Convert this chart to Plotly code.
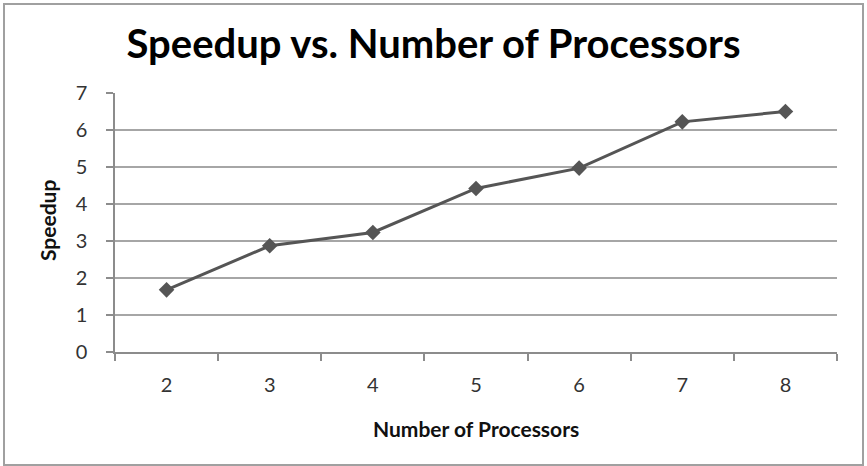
import plotly.graph_objects as go

# Measured speedup for each processor count
processors = ["2", "3", "4", "5", "6", "7", "8"]
speedup = [1.68, 2.87, 3.23, 4.42, 4.97, 6.22, 6.50]
y_ticks = [0, 1, 2, 3, 4, 5, 6, 7]

W, H = 867, 466
L, R, T, B = 115, 30, 93, 114

FONT = "Lato, Calibri, 'Open Sans', sans-serif"
LINE_GRAY = "#555555"
GRID_GRAY = "#a6a6a6"

fig = go.Figure(
    go.Scatter(
        x=processors,
        y=speedup,
        mode="lines+markers",
        line=dict(color=LINE_GRAY, width=3),
        marker=dict(symbol="diamond", size=12, color=LINE_GRAY),
        showlegend=False,
        hoverinfo="x+y",
    )
)

pw = W - L - R
ph = H - T - B


def px_to_paper_x(px):
    return (px - L) / pw


def px_to_paper_y(py):
    return (H - B - py) / ph


# Outer chart frame
fig.add_shape(
    type="rect",
    xref="paper", yref="paper",
    x0=px_to_paper_x(4), x1=px_to_paper_x(863),
    y0=px_to_paper_y(465), y1=px_to_paper_y(4),
    line=dict(color="#a0a0a0", width=2),
    fillcolor="rgba(0,0,0,0)",
    layer="below",
)

# Axis titles placed as annotations
fig.add_annotation(
    text="<b>Number of Processors</b>",
    xref="paper", yref="paper",
    x=px_to_paper_x(476), y=px_to_paper_y(428),
    xanchor="center", yanchor="middle",
    showarrow=False,
    font=dict(family=FONT, size=21, color="#111111"),
)
fig.add_annotation(
    text="<b>Speedup</b>",
    xref="paper", yref="paper",
    x=px_to_paper_x(47), y=px_to_paper_y(221),
    xanchor="center", yanchor="middle",
    textangle=-90,
    showarrow=False,
    font=dict(family=FONT, size=21, color="#111111"),
)

fig.update_layout(
    width=W,
    height=H,
    margin=dict(l=L, r=R, t=T, b=B, pad=0),
    paper_bgcolor="white",
    plot_bgcolor="white",
    font=dict(family=FONT, color="#222222"),
    title=dict(
        text="<b>Speedup vs. Number of Processors</b>",
        font=dict(family=FONT, size=40, color="#000000"),
        x=0.5, xref="container", xanchor="center",
        y=1 - 44 / H, yref="container", yanchor="middle",
    ),
    xaxis=dict(
        type="category",
        range=[-0.5, len(processors) - 0.5],
        showgrid=False,
        showline=True,
        linecolor="#8c8c8c",
        linewidth=1.5,
        ticks="outside",
        tickson="boundaries",
        ticklen=7,
        tickcolor="#8c8c8c",
        tickwidth=1.5,
        tickfont=dict(family=FONT, size=20, color="#333333"),
        ticklabelstandoff=14,
        fixedrange=True,
    ),
    yaxis=dict(
        range=[0, 7],
        tickvals=y_ticks,
        showgrid=True,
        gridcolor=GRID_GRAY,
        gridwidth=1.5,
        zeroline=False,
        showline=True,
        linecolor="#8c8c8c",
        linewidth=1.5,
        ticks="outside",
        ticklen=7,
        tickcolor="#8c8c8c",
        tickwidth=1.5,
        tickfont=dict(family=FONT, size=20, color="#333333"),
        ticklabelstandoff=15,
        fixedrange=True,
    ),
)

fig.write_html("out.html")
